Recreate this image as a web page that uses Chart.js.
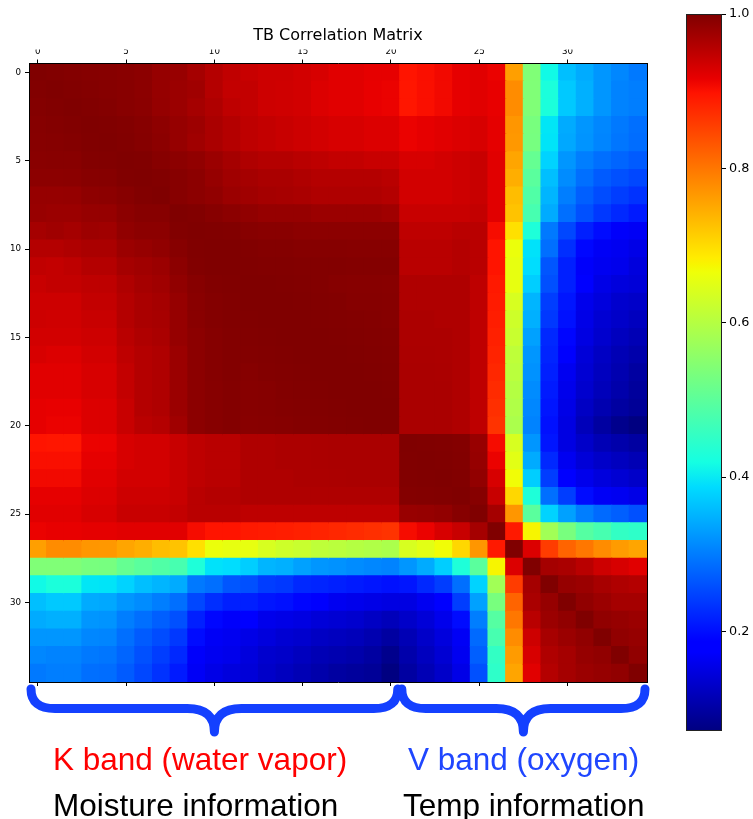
<!DOCTYPE html>
<html>
<head>
<meta charset="utf-8">
<script src="https://cdn.jsdelivr.net/npm/chart.js@4.4.1/dist/chart.umd.min.js"></script>
<style>
html,body{margin:0;padding:0;background:#fff;}
#wrap{position:relative;width:753px;height:819px;overflow:hidden;background:#fff;}
#main{position:absolute;left:0;top:0;width:753px;height:819px;}
#cbar{position:absolute;left:660px;top:0;width:93px;height:760px;}
.lbl{position:absolute;font-family:"Liberation Sans",Arial,sans-serif;font-size:31.5px;line-height:31.5px;white-space:nowrap;}
</style>
</head>
<body>
<div id="wrap">
<canvas id="main" width="753" height="819"></canvas>
<canvas id="cbar" width="93" height="760"></canvas>
<div class="lbl" style="left:53px;top:744px;color:#ff0000;">K band (water vapor)</div>
<div class="lbl" style="left:53px;top:790px;color:#000;">Moisture information</div>
<div class="lbl" style="left:408px;top:744px;color:#1f46ff;">V band (oxygen)</div>
<div class="lbl" style="left:403px;top:790px;color:#000;">Temp information</div>
</div>
<script>
// ---------------- data ----------------
const chartTitle = 'TB Correlation Matrix';
const channels = [0,1,2,3,4,5,6,7,8,9,10,11,12,13,14,15,16,17,18,19,20,21,22,23,24,25,26,27,28,29,30,31,32,33,34];
const matrixTicks = [0,5,10,15,20,25,30];
const colorbarTicks = [0.2,0.4,0.6,0.8,1.0];
const colorMin = 0.071;
const colorMax = 1.0;
const kBandChannels = [0, 20];
const vBandChannels = [21, 34];

// upper triangle of the symmetric matrix: rowNN holds columns NN..34
const row00 = [1.000,0.998,0.996,0.995,0.994,0.992,0.990,0.982,0.980,0.970,0.958,0.948,0.942,0.938,0.938,0.934,0.930,0.922,0.922,0.918,0.918,0.897,0.902,0.908,0.918,0.922,0.914,0.760,0.541,0.415,0.361,0.343,0.324,0.310,0.297];
const row01 = [1.000,0.998,0.996,0.995,0.993,0.990,0.982,0.978,0.974,0.958,0.946,0.946,0.938,0.936,0.934,0.926,0.922,0.922,0.916,0.914,0.895,0.902,0.908,0.918,0.922,0.916,0.779,0.541,0.427,0.370,0.347,0.324,0.306,0.302];
const row02 = [1.000,0.998,0.996,0.993,0.991,0.983,0.978,0.970,0.962,0.950,0.946,0.938,0.936,0.934,0.926,0.922,0.922,0.916,0.914,0.895,0.902,0.908,0.918,0.922,0.916,0.779,0.541,0.427,0.370,0.347,0.324,0.306,0.302];
const row03 = [1.000,0.999,0.997,0.994,0.988,0.982,0.976,0.966,0.958,0.950,0.946,0.942,0.938,0.934,0.930,0.930,0.926,0.926,0.914,0.918,0.922,0.926,0.930,0.919,0.769,0.532,0.397,0.343,0.324,0.310,0.297,0.288];
const row04 = [1.000,0.998,0.995,0.990,0.982,0.974,0.966,0.958,0.950,0.946,0.942,0.938,0.934,0.930,0.930,0.926,0.926,0.914,0.918,0.922,0.926,0.930,0.919,0.767,0.530,0.395,0.340,0.322,0.308,0.295,0.286];
const row05 = [1.000,0.999,0.994,0.990,0.986,0.978,0.970,0.962,0.958,0.958,0.954,0.950,0.946,0.946,0.942,0.942,0.930,0.930,0.934,0.938,0.942,0.922,0.754,0.510,0.379,0.324,0.302,0.288,0.279,0.270];
const row06 = [1.000,0.998,0.994,0.990,0.982,0.974,0.970,0.966,0.966,0.962,0.958,0.958,0.958,0.958,0.954,0.934,0.934,0.934,0.938,0.942,0.922,0.745,0.498,0.361,0.315,0.288,0.270,0.260,0.252];
const row07 = [1.000,0.994,0.990,0.986,0.978,0.974,0.970,0.968,0.966,0.962,0.962,0.962,0.962,0.958,0.934,0.934,0.934,0.938,0.942,0.922,0.730,0.487,0.352,0.302,0.274,0.256,0.243,0.233];
const row08 = [1.000,0.998,0.994,0.990,0.986,0.982,0.982,0.982,0.978,0.978,0.978,0.978,0.974,0.942,0.942,0.942,0.942,0.946,0.922,0.725,0.476,0.343,0.288,0.260,0.238,0.224,0.211];
const row09 = [1.000,0.999,0.998,0.994,0.992,0.992,0.990,0.990,0.990,0.990,0.990,0.990,0.950,0.950,0.950,0.954,0.954,0.905,0.696,0.430,0.297,0.252,0.215,0.197,0.170,0.166];
const row10 = [1.000,1.000,0.998,0.996,0.996,0.995,0.995,0.995,0.994,0.994,0.994,0.954,0.954,0.954,0.958,0.954,0.897,0.662,0.393,0.288,0.229,0.193,0.166,0.162,0.154];
const row11 = [1.000,0.999,0.998,0.998,0.997,0.997,0.997,0.996,0.996,0.996,0.954,0.954,0.954,0.958,0.954,0.897,0.657,0.388,0.265,0.215,0.170,0.162,0.158,0.146];
const row12 = [1.000,1.000,0.999,0.998,0.997,0.995,0.994,0.994,0.993,0.962,0.962,0.962,0.962,0.950,0.892,0.657,0.375,0.260,0.215,0.182,0.154,0.146,0.142];
const row13 = [1.000,1.000,0.999,0.998,0.997,0.995,0.995,0.994,0.962,0.962,0.962,0.962,0.950,0.890,0.639,0.352,0.243,0.206,0.158,0.146,0.134,0.130];
const row14 = [1.000,1.000,0.999,0.998,0.997,0.996,0.995,0.964,0.964,0.962,0.962,0.950,0.888,0.628,0.347,0.238,0.202,0.154,0.138,0.130,0.122];
const row15 = [1.000,1.000,0.999,0.998,0.997,0.996,0.964,0.964,0.964,0.962,0.950,0.885,0.622,0.334,0.224,0.192,0.150,0.134,0.122,0.114];
const row16 = [1.000,1.000,0.999,0.998,0.997,0.965,0.965,0.964,0.962,0.950,0.882,0.611,0.324,0.220,0.172,0.142,0.126,0.114,0.106];
const row17 = [1.000,1.000,0.999,0.998,0.966,0.966,0.965,0.962,0.950,0.878,0.606,0.320,0.215,0.162,0.138,0.122,0.110,0.098];
const row18 = [1.000,1.000,0.999,0.966,0.966,0.966,0.962,0.950,0.874,0.600,0.315,0.211,0.158,0.134,0.118,0.106,0.094];
const row19 = [1.000,1.000,0.966,0.966,0.966,0.962,0.950,0.870,0.595,0.310,0.206,0.154,0.126,0.110,0.098,0.090];
const row20 = [1.000,0.966,0.966,0.966,0.962,0.950,0.866,0.589,0.306,0.202,0.150,0.118,0.098,0.082,0.072];
const row21 = [1.000,0.999,0.998,0.996,0.980,0.905,0.639,0.324,0.206,0.150,0.130,0.114,0.106,0.098];
const row22 = [1.000,0.999,0.997,0.982,0.914,0.651,0.343,0.224,0.162,0.142,0.130,0.122,0.114];
const row23 = [1.000,0.998,0.985,0.930,0.668,0.375,0.243,0.182,0.158,0.146,0.138,0.130];
const row24 = [1.000,0.994,0.942,0.705,0.430,0.288,0.243,0.197,0.166,0.162,0.154];
const row25 = [1.000,0.970,0.769,0.498,0.379,0.334,0.302,0.284,0.274,0.260];
const row26 = [1.000,0.892,0.675,0.578,0.532,0.492,0.476,0.453,0.448];
const row27 = [1.000,0.926,0.857,0.818,0.799,0.779,0.764,0.754];
const row28 = [1.000,0.970,0.966,0.954,0.938,0.930,0.922];
const row29 = [1.000,0.982,0.978,0.968,0.962,0.958];
const row30 = [1.000,0.986,0.978,0.970,0.970];
const row31 = [1.000,0.986,0.982,0.978];
const row32 = [1.000,0.986,0.982];
const row33 = [1.000,0.986];
const row34 = [1.000];

const upperRows = [row00,row01,row02,row03,row04,row05,row06,row07,row08,row09,row10,row11,row12,row13,row14,row15,row16,row17,row18,row19,row20,row21,row22,row23,row24,row25,row26,row27,row28,row29,row30,row31,row32,row33,row34];

// ---------------- jet colormap (matplotlib segment data) ----------------
const jetR = [[0,0],[0.35,0],[0.66,1],[0.89,1],[1,0.5]];
const jetG = [[0,0],[0.125,0],[0.375,1],[0.64,1],[0.91,0],[1,0]];
const jetB = [[0,0.5],[0.11,1],[0.34,1],[0.65,0],[1,0]];
function seg(s, t) {
  for (let k = 1; k < s.length; k++) {
    if (t <= s[k][0]) {
      const a = s[k-1], b = s[k];
      return a[1] + (b[1]-a[1]) * (t-a[0]) / (b[0]-a[0]);
    }
  }
  return s[s.length-1][1];
}
function jet(t) {
  t = Math.max(0, Math.min(1, t));
  return 'rgb(' + Math.round(255*seg(jetR,t)) + ',' + Math.round(255*seg(jetG,t)) + ',' + Math.round(255*seg(jetB,t)) + ')';
}
function valueColor(v) { return jet((v - colorMin) / (colorMax - colorMin)); }

// full symmetric cell list, built from the named rows
const cells = [];
for (let i = 0; i < channels.length; i++) {
  for (let j = i; j < channels.length; j++) {
    const v = upperRows[i][j - i];
    cells.push({x: channels[j], y: [channels[i] - 0.5, channels[i] + 0.5], v: v});
    if (i !== j) cells.push({x: channels[i], y: [channels[j] - 0.5, channels[j] + 0.5], v: v});
  }
}

Chart.defaults.font.family = '"DejaVu Sans", sans-serif';
Chart.defaults.color = '#000';

const tickFont = {size: 8.7, family: '"DejaVu Sans", sans-serif'};
const setTicks = (vals) => (scale) => { scale.ticks = vals.map(v => ({value: v})); };

const braceColor = '#1440ff';
const bracePlugin = {
  id: 'braces',
  afterDraw(chart) {
    const xs = chart.scales.x;
    const ctx = chart.ctx;
    const bottom = chart.chartArea.bottom;
    const yTop = bottom + 7, yMid = bottom + 26.5, yTip = bottom + 50;
    const r = 24, rc = 27;
    ctx.save();
    ctx.strokeStyle = braceColor;
    ctx.lineWidth = 9;
    ctx.lineCap = 'round';
    ctx.lineJoin = 'round';
    [kBandChannels, vBandChannels].forEach(g => {
      const x0 = xs.getPixelForValue(g[0] - 0.5) + 2;
      const x1 = xs.getPixelForValue(g[1] + 0.5) - 2;
      const xm = (x0 + x1) / 2;
      ctx.beginPath();
      ctx.moveTo(x0, yTop);
      ctx.quadraticCurveTo(x0, yMid, x0 + r, yMid);
      ctx.lineTo(xm - rc, yMid);
      ctx.quadraticCurveTo(xm, yMid, xm, yTip);
      ctx.quadraticCurveTo(xm, yMid, xm + rc, yMid);
      ctx.lineTo(x1 - r, yMid);
      ctx.quadraticCurveTo(x1, yMid, x1, yTop);
      ctx.stroke();
    });
    ctx.restore();
  }
};

new Chart(document.getElementById('main'), {
  type: 'bar',
  data: {
    datasets: [{
      data: cells,
      backgroundColor: (c) => c.raw ? valueColor(c.raw.v) : '#000',
      borderWidth: 0,
      barPercentage: 1,
      categoryPercentage: 1,
      inflateAmount: 0.6,
      clip: 0
    }]
  },
  options: {
    responsive: false,
    animation: false,
    devicePixelRatio: 1,
    layout: {padding: {left: 0, top: 0, right: 106, bottom: 132}},
    plugins: {
      legend: {display: false},
      tooltip: {enabled: false},
      title: {
        display: true,
        text: chartTitle,
        fullSize: false,
        color: '#000',
        font: {size: 16, weight: 'normal', family: '"DejaVu Sans", sans-serif'},
        padding: {top: 26.4, bottom: 3.9}
      }
    },
    scales: {
      x: {
        type: 'linear', position: 'top', min: -0.5, max: 34.5, offset: false,
        afterBuildTicks: setTicks(matrixTicks),
        afterFit: (s) => { s.height = 14; },
        ticks: {font: tickFont, color: '#000', padding: 3, maxRotation: 0, autoSkip: false, callback: (v) => String(v)},
        grid: {drawOnChartArea: false, offset: false, tickLength: 4, color: '#000'},
        border: {display: true, color: '#000', width: 1, z: 1}
      },
      x2: {
        type: 'linear', position: 'bottom', min: -0.5, max: 34.5, offset: false,
        afterBuildTicks: setTicks(matrixTicks),
        afterFit: (s) => { s.height = 5; },
        ticks: {display: false},
        grid: {drawOnChartArea: false, offset: false, tickLength: 4, color: '#000'},
        border: {display: true, color: '#000', width: 1, z: 1}
      },
      y: {
        type: 'linear', position: 'left', reverse: true, min: -0.5, max: 34.5,
        afterBuildTicks: setTicks(matrixTicks),
        afterFit: (s) => { s.width = 29; },
        ticks: {font: tickFont, color: '#000', padding: 4, autoSkip: false, callback: (v) => String(v)},
        grid: {drawOnChartArea: false, tickLength: 4, color: '#000'},
        border: {display: true, color: '#000', width: 1, z: 1}
      },
      y2: {
        type: 'linear', position: 'right', min: -0.5, max: 34.5,
        afterFit: (s) => { s.width = 0; },
        ticks: {display: false},
        grid: {display: false},
        border: {display: true, color: '#000', width: 1, z: 1}
      }
    }
  },
  plugins: [bracePlugin]
});

// ---------------- colorbar ----------------
const gradStops = [0,0.05,0.1,0.11,0.125,0.15,0.2,0.25,0.3,0.34,0.375,0.4,0.45,0.5,0.55,0.6,0.64,0.65,0.66,0.7,0.75,0.8,0.85,0.89,0.91,0.95,1];
new Chart(document.getElementById('cbar'), {
  type: 'bar',
  data: {
    labels: ['corr'],
    datasets: [{
      data: [[colorMin, colorMax]],
      backgroundColor: (c) => {
        const area = c.chart.chartArea;
        if (!area) return '#888';
        const g = c.chart.ctx.createLinearGradient(0, area.bottom, 0, area.top);
        gradStops.forEach(t => g.addColorStop(t, jet(t)));
        return g;
      },
      borderColor: '#222',
      borderWidth: 1,
      borderSkipped: false,
      barPercentage: 1,
      categoryPercentage: 1,
      inflateAmount: 0
    }]
  },
  options: {
    responsive: false,
    animation: false,
    devicePixelRatio: 1,
    layout: {padding: {left: 26, top: 14, bottom: 29, right: 0}},
    plugins: {legend: {display: false}, tooltip: {enabled: false}, title: {display: false}},
    scales: {
      x: {display: false},
      y: {
        position: 'right', min: colorMin, max: colorMax,
        afterBuildTicks: setTicks(colorbarTicks),
        afterFit: (s) => { s.width = 31; },
        ticks: {font: {size: 12.8, family: '"DejaVu Sans", sans-serif'}, color: '#000', padding: 3, callback: (v) => v.toFixed(1)},
        grid: {drawOnChartArea: false, tickLength: 4, color: '#000'},
        border: {display: false}
      }
    }
  }
});
</script>
</body>
</html>
